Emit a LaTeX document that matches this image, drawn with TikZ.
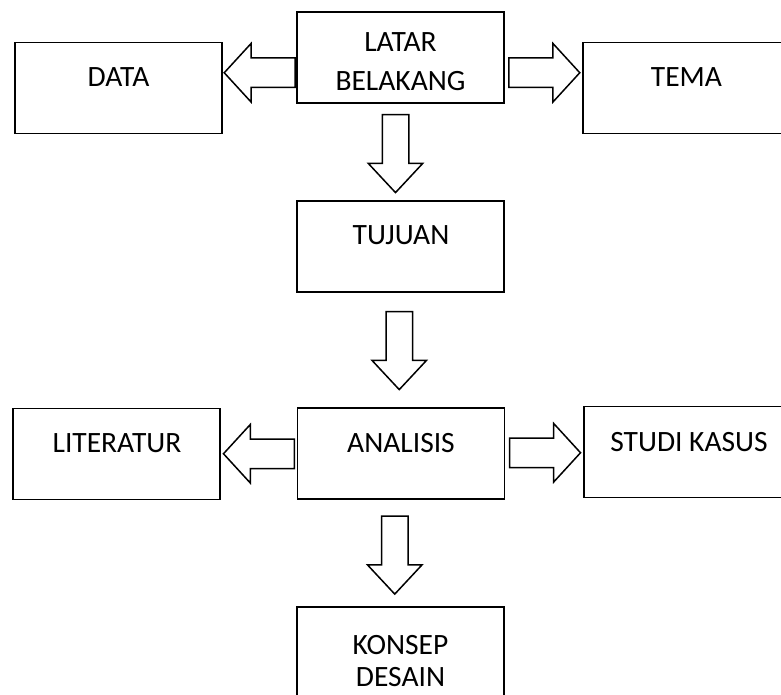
\documentclass[tikz,border=0pt]{standalone}
\usepackage{fontspec}
\setmainfont{Carlito}
\usetikzlibrary{shapes.arrows,calc}
\begin{document}
\begin{tikzpicture}[x=1pt,y=-1pt,
  box/.style={draw=black, line width=1.8pt, fill=white, minimum width=207pt, minimum height=91pt, inner sep=0pt},
  lbl/.style={anchor=base, inner sep=0pt, font=\fontsize{29.5}{36}\selectfont, text=black},
  harrow/.style={single arrow, draw=black, line width=1.5pt, minimum height=71pt,
    single arrow head extend=14.5pt, single arrow tip angle=95, single arrow head indent=0pt,
    inner xsep=0pt, inner ysep=14pt},
  varrow/.style={single arrow, draw=black, line width=1.5pt, minimum height=78pt,
    single arrow head extend=14pt, single arrow tip angle=86, single arrow head indent=0pt,
    inner xsep=0pt, inner ysep=12.5pt, rotate=-90}]
\useasboundingbox (0,0) rectangle (781,695);
\clip (0,0) rectangle (781,695);

% boxes
\node[box] (latar) at (400.5,57.5) {};
\node[box] (data) at (118.5,88) {};
\node[box] (tema) at (686.5,88) {};
\node[box] (tujuan) at (400.5,246.5) {};
\node[box] (analisis) at (401,453.5) {};
\node[box] (literatur) at (116.5,454) {};
\node[box] (studi) at (687.5,452) {};
\node[box] (konsep) at (400.5,652.5) {};

% labels
\node[lbl] (t-latar1) at (400.5,52) {LATAR};
\node[lbl] (t-latar2) at (400.5,91) {BELAKANG};
\node[lbl] (t-data) at (118.5,87) {DATA};
\node[lbl] (t-tema) at (686.5,87) {TEMA};
\node[lbl] (t-tujuan) at (401,244) {TUJUAN};
\node[lbl] (t-analisis) at (401,452) {ANALISIS};
\node[lbl] (t-literatur) at (117,452) {LITERATUR};
\node[lbl] (t-studi) at (689,451) {STUDI KASUS};
\node[lbl] (t-konsep1) at (400.5,654) {KONSEP};
\node[lbl] (t-konsep2) at (400.5,686) {DESAIN};

% block arrows
\node[harrow, rotate=180] (a-data) at ($(data.east)!0.5!(latar.west)+(7,0)$) {};
\node[harrow] (a-tema) at ($(latar.east)!0.5!(tema.west)+(-6,0)$) {};
\node[varrow] (a-tujuan) at ($(latar.south)!0.5!(tujuan.north)+(-5,-5.5)$) {};
\node[varrow] (a-analisis) at ($(tujuan.south)!0.5!(analisis.north)+(-1.5,-6.5)$) {};
\node[harrow, rotate=180] (a-literatur) at ($(literatur.east)!0.5!(analisis.west)+(7,0)$) {};
\node[harrow] (a-studi) at ($(analisis.east)!0.5!(studi.west)+(-6,0)$) {};
\node[varrow] (a-konsep) at ($(analisis.south)!0.5!(konsep.north)+(-6,-5)$) {};
\end{tikzpicture}
\end{document}
